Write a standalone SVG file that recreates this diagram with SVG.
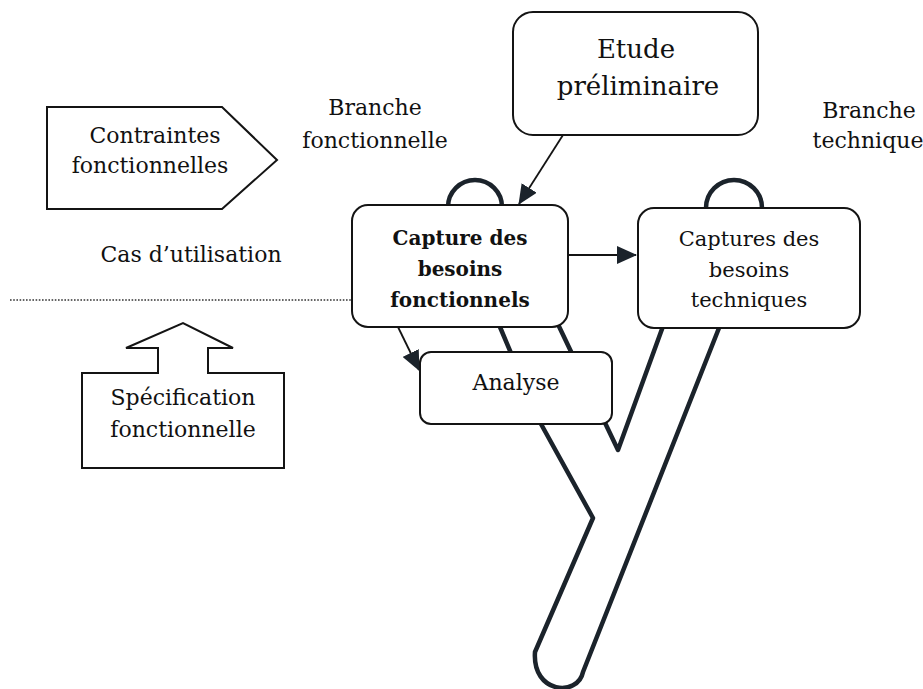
<svg xmlns="http://www.w3.org/2000/svg" width="923" height="689" viewBox="0 0 923 689">
  <style>
    .box { fill: #ffffff; stroke: #141414; stroke-width: 2; }
    .shape { fill: #ffffff; stroke: #141414; stroke-width: 2; stroke-linejoin: miter; }
    .y { fill: none; stroke: #1b232b; stroke-width: 4.5; stroke-linejoin: round; }
    .t { font-family: 'DejaVu Serif', 'Liberation Serif', serif; font-size: 22px; fill: #111111; text-anchor: middle; }
    .b { font-weight: bold; font-size: 20px; }
    .s { font-size: 21px; }
    .big { font-size: 26px; }
    .arrow { fill: none; stroke: #141414; stroke-width: 1.8; }
    .dots { stroke: #333333; stroke-width: 1.6; stroke-dasharray: 1.6 1.6; fill: none; }
  </style>
  <defs>
    <marker id="head" markerUnits="userSpaceOnUse" viewBox="0 0 20 18" refX="19" refY="9" markerWidth="20" markerHeight="18" orient="auto">
      <path d="M0,0 L20,9 L0,18 z" fill="#1b232b"/>
    </marker>
  </defs>

  <rect width="923" height="689" fill="#ffffff"/>

  <!-- 2-track "Y" process outline, drawn beneath the boxes -->
  <g id="y-process">
    <path class="y" d="M 448,207 A 27,27 0 0 1 502,207 L 618,450 L 706,208 A 28,28 0 0 1 762,208 L 719,328 L 583,672 C 578,697 532,694 535,652 L 593,518 L 541,424 L 500,327 Z"/>
  </g>

  <!-- separator between use cases and functional specification -->
  <line class="dots" x1="10" y1="300" x2="351" y2="300"/>

  <g id="node-etude">
    <rect class="box" x="513" y="12" width="245" height="123" rx="20"/>
    <text class="t big" x="636" y="58">Etude</text>
    <text class="t big" x="638" y="95">préliminaire</text>
  </g>

  <g id="node-capture-fonc">
    <rect class="box" x="352" y="205" width="216" height="122" rx="16"/>
    <text class="t b" x="460" y="245">Capture des</text>
    <text class="t b" x="460" y="276">besoins</text>
    <text class="t b" x="460" y="307">fonctionnels</text>
  </g>

  <g id="node-capture-tech">
    <rect class="box" x="638" y="208" width="222" height="120" rx="16"/>
    <text class="t s" x="749" y="246">Captures des</text>
    <text class="t s" x="749" y="277">besoins</text>
    <text class="t s" x="749" y="307">techniques</text>
  </g>

  <g id="node-analyse">
    <rect class="box" x="420" y="352" width="192" height="72" rx="11"/>
    <text class="t" x="516" y="390">Analyse</text>
  </g>

  <g id="node-contraintes">
    <polygon class="shape" points="47,107 222,107 277,160 222,209 47,209"/>
    <text class="t" x="155" y="143">Contraintes</text>
    <text class="t" x="150" y="173">fonctionnelles</text>
  </g>

  <g id="node-specification">
    <polygon class="shape" points="82,373 158,373 158,348 126,348 183,323 233,348 208,348 208,373 284,373 284,468 82,468"/>
    <text class="t" x="183" y="405">Spécification</text>
    <text class="t" x="183" y="437">fonctionnelle</text>
  </g>

  <g id="labels">
    <text class="t" x="375" y="115">Branche</text>
    <text class="t" x="375" y="148">fonctionnelle</text>
    <text class="t" x="869" y="118">Branche</text>
    <text class="t" x="868" y="148">technique</text>
    <text class="t" x="191" y="262">Cas d’utilisation</text>
  </g>

  <g id="connectors">
    <line class="arrow" x1="563" y1="135" x2="519" y2="204" marker-end="url(#head)"/>
    <line class="arrow" x1="568" y1="255" x2="636" y2="255" marker-end="url(#head)"/>
    <line class="arrow" x1="398" y1="327" x2="419" y2="370" marker-end="url(#head)"/>
  </g>
</svg>
